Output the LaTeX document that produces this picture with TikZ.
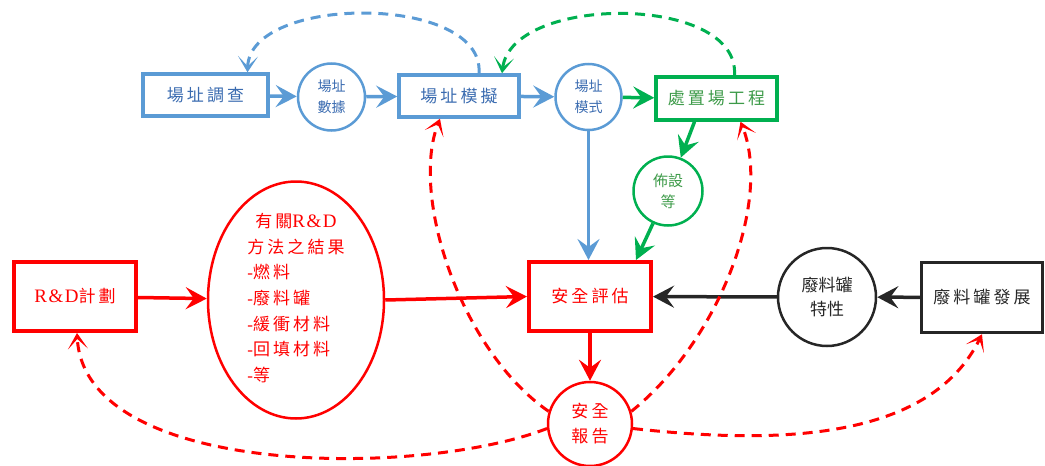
\documentclass[tikz,border=0pt]{standalone}
\usepackage{fontspec}
\setmainfont{Liberation Serif}
\newfontfamily\serifS{Liberation Serif}[LetterSpace=8]
\newfontfamily\cjk{Noto Sans CJK TC}
\newfontfamily\cjkS{Noto Sans CJK TC}[LetterSpace=18]
\usetikzlibrary{arrows.meta,shapes.geometric}
\definecolor{cblue}{HTML}{5B9BD5}
\definecolor{tblue}{HTML}{3A6BB0}
\definecolor{cgreen}{HTML}{00B050}
\definecolor{tgreen}{HTML}{3C9A48}
\definecolor{cred}{HTML}{FF0000}
\definecolor{cblack}{HTML}{262626}
\newcommand{\RDtxt}{{\serifS\fontsize{19}{20}\selectfont R\&D}}
\newcommand{\dsh}{{\rmfamily\fontsize{17}{20}\selectfont -}}
\tikzset{
  box/.style={draw, rectangle, line width=3.5pt, inner sep=0pt, align=center,
    font=\cjkS\fontsize{17}{20}\selectfont},
  circ/.style={draw, circle, line width=2.5pt, inner sep=0pt, align=center},
  arr/.style={line width=3.5pt, -{Stealth[length=21pt,width=22pt,inset=8pt]}},
  darr/.style={line width=3pt, dash pattern=on 10pt off 7pt,
    -{Stealth[length=16pt,width=20pt,inset=10pt]}},
}
\begin{document}
\begin{tikzpicture}[x=1pt,y=-1pt]
\useasboundingbox (0,0) rectangle (1045,466);
% top row
\node[box, draw=cblue, text=tblue, minimum width=125pt, minimum height=42pt] (sch) at (205.5,95) {場址調查};
\node[circ, draw=cblue, text=tblue, minimum size=67pt, font=\cjk\fontsize{14}{21}\selectfont] (dat) at (331.5,97) {場址\\數據};
\node[box, draw=cblue, text=tblue, minimum width=120pt, minimum height=42pt] (sim) at (459,96) {場址模擬};
\node[circ, draw=cblue, text=tblue, minimum size=66pt, font=\cjk\fontsize{14}{21}\selectfont] (mod) at (588.5,97) {場址\\模式};
\node[box, draw=cgreen, text=tgreen, minimum width=121pt, minimum height=43pt] (eng) at (716.5,98.5) {處置場工程};
\node[circ, draw=cgreen, text=tgreen, minimum size=69pt, font=\cjk\fontsize{15}{21}\selectfont] (bus) at (668,191) {佈設\\等};
% middle row
\node[box, draw=cred, text=cred, line width=4pt, minimum width=122pt, minimum height=69pt] (saf) at (590,296.5) {安全評估};
\node[box, draw=cred, text=cred, line width=4pt, minimum width=122pt, minimum height=69pt] (rd) at (75,296.5) {\RDtxt 計劃};
\node[draw=cred, ellipse, line width=2.5pt, minimum width=176pt, minimum height=237pt, inner sep=0pt] (ell) at (296,300) {};
\node[text=cred, align=left, inner sep=0pt, font=\cjkS\fontsize{17}{25.7}\selectfont] (res) at (296,298)
  {\hspace*{8pt}有關\RDtxt\\方法之結果\\\dsh 燃料\\\dsh 廢料罐\\\dsh 緩衝材料\\\dsh 回填材料\\\dsh 等};
\node[circ, draw=cblack, text=cblack, minimum size=98pt, font=\cjk\fontsize{17}{24}\selectfont] (tank) at (827,297) {廢料罐\\特性};
\node[box, draw=cblack, text=cblack, minimum width=121pt, minimum height=70pt] (dev) at (982,297.5) {廢料罐發展};
\node[circ, draw=cred, text=cred, minimum size=84pt, font=\cjkS\fontsize{17}{25}\selectfont] (rep) at (590,424) {安全\\報告};
% solid connectors
\draw[arr, cblue] (sch) -- (dat);
\draw[arr, cblue] (dat) -- (sim);
\draw[arr, cblue] (sim) -- (mod);
\draw[arr, cgreen] (mod) -- (eng);
\draw[arr, cblue] (mod.south) -- (mod.south |- saf.north);
\draw[arr, cgreen] ([xshift=-22pt]eng.south) -- (bus);
\draw[arr, cgreen] (bus) -- ([xshift=-17pt]saf.north east);
\draw[arr, cred] (rd) -- (ell);
\draw[arr, cred] (ell.east) -- (saf.west);
\draw[arr, cblack] (tank) -- (saf);
\draw[arr, cblack] (dev) -- (tank);
\draw[arr, cred] (saf) -- (rep);
% dashed feedback
\draw[darr, cblue] ([xshift=20pt]sim.north) .. controls (485,-6) and (250,-6) .. ([xshift=42pt]sch.north);
\draw[darr, cgreen] ([xshift=18pt]eng.north) .. controls (740,-6) and (512,-6) .. ([xshift=43pt]sim.north);
\draw[darr, cred] (rep.163) .. controls (460,350) and (410,195) .. ([xshift=-19pt]sim.south);
\draw[darr, cred] (rep.17) .. controls (720,340) and (772,200) .. ([xshift=24pt]eng.south);
\draw[darr, cred] (rep.186) .. controls (420,478) and (85,478) .. ([xshift=2pt]rd.south);
\draw[darr, cred] (rep.354) .. controls (780,445) and (930,440) .. (dev.south);
\end{tikzpicture}
\end{document}
